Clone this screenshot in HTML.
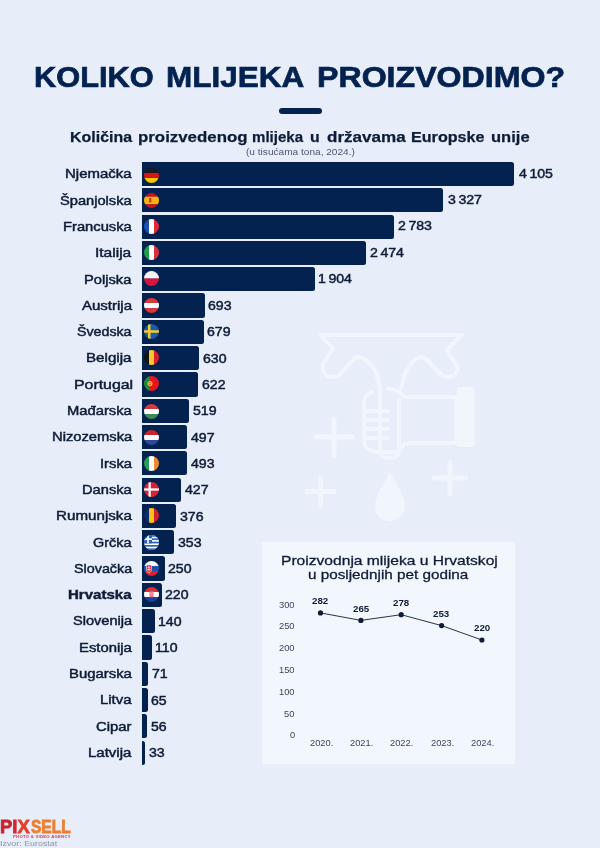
<!DOCTYPE html><html lang="hr"><head><meta charset="utf-8"><title>Koliko mlijeka proizvodimo?</title><style>
*{margin:0;padding:0;box-sizing:border-box}
html,body{width:600px;height:848px;overflow:hidden;background:#e7eefa}
body{font-family:"Liberation Sans",sans-serif;color:#0f1c37;position:relative}
.t{position:absolute;white-space:pre;line-height:1;transform-origin:0 50%}
.rule{position:absolute;left:278.5px;top:108.1px;width:43.5px;height:5.6px;border-radius:3px;background:#03224f}
.bar{position:absolute;left:142px;height:24.2px;background:#03224f;border-radius:0 2.5px 2.5px 0}
.flag{position:absolute;left:144.4px;width:15px;height:15px;border-radius:50%;overflow:hidden}
.flag svg{display:block;width:15px;height:15px}
.box{position:absolute;left:262px;top:541.5px;width:253px;height:222px;background:#f2f7fd}
.chart{position:absolute;left:262px;top:541.5px}
</style></head><body>
<div class="rule"></div>
<svg style="position:absolute;left:290px;top:310px" width="200" height="215" viewBox="290 310 200 215" fill="none" stroke="#f1f5fc" stroke-width="4" stroke-linecap="round" stroke-linejoin="round">
<path d="M320 335H461.7M320 335L333.3 348.3L323.5 363C321 371 325 377 332 377C338 377 341 374 343 371L353 360C360 352 370 362 376 372L380 388"/>
<path d="M461.7 335L446.7 350L456.5 365C459 372 455 377 449 377C443 377 440 374 438 371L427 360C420 352 411 362 406 372L401 388"/>
<path d="M380 388V452C380 460 399 460 399 452V400"/>
<path d="M372 392C366 394 364 398 364 404V440C364 448 370 452 378 452H392C398 452 402 449 404 444L410 443H456V397H404C400 391 394 389 388 389"/>
<path d="M366 411H388M366 420H388M366 429H388M367 438H388"/>
<rect x="457" y="387" width="17.5" height="60" rx="3" fill="#f1f5fc" stroke="none"/>
<path d="M390 472C384 484 375 496 375 506C375 515 382 521 390 521C398 521 405 515 405 506C405 496 396 484 390 472Z" fill="#f1f5fc" stroke="none"/>
<path d="M316 437H352M334 419V455M434 478H466M450 462V494M307 491.5H334M320.5 478V505" stroke-width="5"/>
</svg>
<div class="bar" style="top:161.95px;width:371.91px"></div>
<div class="flag" style="top:168.00px"><svg viewBox="0 0 30 30"><rect x="0" y="0.00" width="30" height="10.30" fill="#1a1a1a"/><rect x="0" y="10.00" width="30" height="10.30" fill="#d8131b"/><rect x="0" y="20.00" width="30" height="10.30" fill="#f6c800"/></svg></div>
<div class="bar" style="top:188.25px;width:301.43px"></div>
<div class="flag" style="top:193.00px"><svg viewBox="0 0 30 30"><rect x="0" y="0.00" width="30" height="7.80" fill="#c8141e"/><rect x="0" y="7.50" width="30" height="15.30" fill="#f7b512"/><rect x="0" y="22.50" width="30" height="7.80" fill="#c8141e"/><rect x="10" y="11" width="5" height="8" fill="#b5531a"/><rect x="11" y="10" width="3" height="2" fill="#c8141e"/></svg></div>
<div class="bar" style="top:214.55px;width:252.14px"></div>
<div class="flag" style="top:218.70px"><svg viewBox="0 0 30 30"><rect y="0" x="0.00" height="30" width="10.30" fill="#1c4fb5"/><rect y="0" x="10.00" height="30" width="10.30" fill="#ffffff"/><rect y="0" x="20.00" height="30" width="10.30" fill="#e1283a"/></svg></div>
<div class="bar" style="top:240.85px;width:224.14px"></div>
<div class="flag" style="top:244.90px"><svg viewBox="0 0 30 30"><rect y="0" x="0.00" height="30" width="10.30" fill="#1e9a4b"/><rect y="0" x="10.00" height="30" width="10.30" fill="#ffffff"/><rect y="0" x="20.00" height="30" width="10.30" fill="#d5303f"/></svg></div>
<div class="bar" style="top:267.15px;width:172.50px"></div>
<div class="flag" style="top:271.20px"><svg viewBox="0 0 30 30"><rect x="0" y="0.00" width="30" height="15.30" fill="#f4f4f6"/><rect x="0" y="15.00" width="30" height="15.30" fill="#d8143a"/></svg></div>
<div class="bar" style="top:293.45px;width:62.79px"></div>
<div class="flag" style="top:297.50px"><svg viewBox="0 0 30 30"><rect x="0" y="0.00" width="30" height="10.30" fill="#d43a3a"/><rect x="0" y="10.00" width="30" height="10.30" fill="#ffffff"/><rect x="0" y="20.00" width="30" height="10.30" fill="#d43a3a"/></svg></div>
<div class="bar" style="top:319.75px;width:61.52px"></div>
<div class="flag" style="top:323.50px"><svg viewBox="0 0 30 30"><rect width="30" height="30" fill="#1d5aa8"/><rect x="8" y="0" width="5" height="30" fill="#f5cb2d"/><rect x="0" y="12.5" width="30" height="5" fill="#f5cb2d"/></svg></div>
<div class="bar" style="top:346.05px;width:57.08px"></div>
<div class="flag" style="top:349.60px"><svg viewBox="0 0 30 30"><rect y="0" x="0.00" height="30" width="10.30" fill="#141414"/><rect y="0" x="10.00" height="30" width="10.30" fill="#f7c92c"/><rect y="0" x="20.00" height="30" width="10.30" fill="#d8202f"/></svg></div>
<div class="bar" style="top:372.35px;width:56.35px"></div>
<div class="flag" style="top:376.00px"><svg viewBox="0 0 30 30"><rect y="0" x="0.00" height="30" width="12.30" fill="#1f8a3c"/><rect y="0" x="12.00" height="30" width="18.30" fill="#e3171f"/><circle cx="12" cy="15" r="5" fill="#f2c321"/><circle cx="12" cy="15" r="2.6" fill="#e3171f"/><circle cx="12" cy="15" r="1.3" fill="#ffffff"/></svg></div>
<div class="bar" style="top:398.65px;width:47.02px"></div>
<div class="flag" style="top:403.60px"><svg viewBox="0 0 30 30"><rect x="0" y="0.00" width="30" height="10.30" fill="#d23a3f"/><rect x="0" y="10.00" width="30" height="10.30" fill="#ffffff"/><rect x="0" y="20.00" width="30" height="10.30" fill="#3f8a55"/></svg></div>
<div class="bar" style="top:424.95px;width:45.03px"></div>
<div class="flag" style="top:430.00px"><svg viewBox="0 0 30 30"><rect x="0" y="0.00" width="30" height="10.30" fill="#c8252f"/><rect x="0" y="10.00" width="30" height="10.30" fill="#ffffff"/><rect x="0" y="20.00" width="30" height="10.30" fill="#2a4a9a"/></svg></div>
<div class="bar" style="top:451.25px;width:44.67px"></div>
<div class="flag" style="top:455.50px"><svg viewBox="0 0 30 30"><rect y="0" x="0.00" height="30" width="10.30" fill="#2a9a56"/><rect y="0" x="10.00" height="30" width="10.30" fill="#ffffff"/><rect y="0" x="20.00" height="30" width="10.30" fill="#f08a2c"/></svg></div>
<div class="bar" style="top:477.55px;width:38.69px"></div>
<div class="flag" style="top:481.80px"><svg viewBox="0 0 30 30"><rect width="30" height="30" fill="#d3223a"/><rect x="9" y="0" width="4.5" height="30" fill="#fff"/><rect x="0" y="12.75" width="30" height="4.5" fill="#fff"/></svg></div>
<div class="bar" style="top:503.85px;width:34.07px"></div>
<div class="flag" style="top:508.40px"><svg viewBox="0 0 30 30"><rect y="0" x="0.00" height="30" width="10.30" fill="#0b2a6a"/><rect y="0" x="10.00" height="30" width="10.30" fill="#f6c415"/><rect y="0" x="20.00" height="30" width="10.30" fill="#d4202c"/></svg></div>
<div class="bar" style="top:530.15px;width:31.98px"></div>
<div class="flag" style="top:534.80px"><svg viewBox="0 0 30 30"><rect width="30" height="30" fill="#fff"/><rect x="0" y="0.00" width="30" height="3.4" fill="#2a62b8"/><rect x="0" y="6.67" width="30" height="3.4" fill="#2a62b8"/><rect x="0" y="13.34" width="30" height="3.4" fill="#2a62b8"/><rect x="0" y="20.01" width="30" height="3.4" fill="#2a62b8"/><rect x="0" y="26.68" width="30" height="3.4" fill="#2a62b8"/><rect x="0" y="0" width="16" height="16.7" fill="#2a62b8"/><rect x="6.3" y="0" width="3.4" height="16.7" fill="#fff"/><rect x="0" y="6.6" width="16" height="3.4" fill="#fff"/></svg></div>
<div class="bar" style="top:556.45px;width:22.65px"></div>
<div class="flag" style="top:561.00px"><svg viewBox="0 0 30 30"><rect x="0" y="0.00" width="30" height="10.30" fill="#ffffff"/><rect x="0" y="10.00" width="30" height="10.30" fill="#1c55b0"/><rect x="0" y="20.00" width="30" height="10.30" fill="#e0202d"/><path d="M5 8h10v9c0 4-3 6-5 7c-2-1-5-3-5-7z" fill="#e0202d" stroke="#fff" stroke-width="1.2"/><path d="M9.2 10h1.6v2.5h2v1.5h-2v2h2.5v1.5h-2.5v3h-1.6v-3h-2.5v-1.5h2.5v-2h-2v-1.5h2z" fill="#fff"/></svg></div>
<div class="bar" style="top:582.75px;width:19.93px"></div>
<div class="flag" style="top:586.60px"><svg viewBox="0 0 30 30"><rect x="0" y="0.00" width="30" height="10.30" fill="#e8262d"/><rect x="0" y="10.00" width="30" height="10.30" fill="#ffffff"/><rect x="0" y="20.00" width="30" height="10.30" fill="#1c3f99"/><path d="M11 9h8v8c0 3-2 5-4 5s-4-2-4-5z" fill="#e8262d"/><g fill="#fff"><rect x="13" y="9" width="2" height="2.6"/><rect x="17" y="9" width="2" height="2.6"/><rect x="11" y="11.6" width="2" height="2.6"/><rect x="15" y="11.6" width="2" height="2.6"/><rect x="13" y="14.2" width="2" height="2.6"/><rect x="17" y="14.2" width="2" height="2.6"/><rect x="11.3" y="16.8" width="1.7" height="2.6"/><rect x="15" y="16.8" width="2" height="2.6"/></g><path d="M10.5 8.8l1.7-2.2 1.4 1.5 1.4-1.8 1.4 1.8 1.4-1.5 1.7 2.2z" fill="#4a7fd0"/></svg></div>
<div class="bar" style="top:609.05px;width:12.68px"></div>
<div class="bar" style="top:635.35px;width:9.97px"></div>
<div class="bar" style="top:661.65px;width:6.43px"></div>
<div class="bar" style="top:687.95px;width:5.89px"></div>
<div class="bar" style="top:714.25px;width:5.07px"></div>
<div class="bar" style="top:740.55px;width:2.99px"></div>
<div class="box"></div>
<svg class="chart" width="253" height="222" viewBox="262 541.5 253 222"><polyline fill="none" stroke="#0f1c37" stroke-width="0.9" points="320.5,612.4 360.9,619.9 401.2,614.2 441.6,625.1 481.9,639.5"/><circle cx="320.5" cy="612.4" r="2.6" fill="#0f1c37"/><circle cx="360.9" cy="619.9" r="2.6" fill="#0f1c37"/><circle cx="401.2" cy="614.2" r="2.6" fill="#0f1c37"/><circle cx="441.6" cy="625.1" r="2.6" fill="#0f1c37"/><circle cx="481.9" cy="639.5" r="2.6" fill="#0f1c37"/></svg>
<div class="t" style="left:33.69px;top:61.97px;font-size:29.8px;font-weight:700;transform:scaleX(1.0331);color:#03224f;-webkit-text-stroke:0.7px #03224f">KOLIKO</div>
<div class="t" style="left:165.65px;top:61.97px;font-size:29.8px;font-weight:700;transform:scaleX(1.0563);color:#03224f;-webkit-text-stroke:0.7px #03224f">MLIJEKA</div>
<div class="t" style="left:317.11px;top:61.97px;font-size:29.8px;font-weight:700;transform:scaleX(1.0782);color:#03224f;-webkit-text-stroke:0.7px #03224f">PROIZVODIMO?</div>
<div class="t" style="left:70.46px;top:129.25px;font-size:15.3px;font-weight:700;transform:scaleX(1.0434);-webkit-text-stroke:0.25px #0f1c37">Količina</div>
<div class="t" style="left:137.60px;top:129.25px;font-size:15.3px;font-weight:700;transform:scaleX(1.1015);-webkit-text-stroke:0.25px #0f1c37">proizvedenog</div>
<div class="t" style="left:252.32px;top:129.25px;font-size:15.3px;font-weight:700;transform:scaleX(0.9843);-webkit-text-stroke:0.25px #0f1c37">mlijeka</div>
<div class="t" style="left:310.43px;top:129.25px;font-size:15.3px;font-weight:700;transform:scaleX(1.0323);-webkit-text-stroke:0.25px #0f1c37">u</div>
<div class="t" style="left:326.94px;top:129.25px;font-size:15.3px;font-weight:700;transform:scaleX(1.1160);-webkit-text-stroke:0.25px #0f1c37">državama</div>
<div class="t" style="left:411.45px;top:129.25px;font-size:15.3px;font-weight:700;transform:scaleX(1.0549);-webkit-text-stroke:0.25px #0f1c37">Europske</div>
<div class="t" style="left:490.69px;top:129.25px;font-size:15.3px;font-weight:700;transform:scaleX(1.0812);-webkit-text-stroke:0.25px #0f1c37">unije</div>
<div class="t" style="left:246.16px;top:148.20px;font-size:8.5px;font-weight:400;transform:scaleX(1.1878);color:#4d576e">(u tisućama tona, 2024.)</div>
<div class="t" style="left:65.08px;top:168.32px;font-size:12.2px;font-weight:400;transform:scaleX(1.2279);-webkit-text-stroke:0.45px #0f1c37">Njemačka</div>
<div class="t" style="left:518.51px;top:167.82px;font-size:12.2px;font-weight:400;transform:scaleX(1.1600);-webkit-text-stroke:0.45px #0f1c37;word-spacing:-1.2px">4 105</div>
<div class="t" style="left:59.90px;top:194.62px;font-size:12.2px;font-weight:400;transform:scaleX(1.2017);-webkit-text-stroke:0.45px #0f1c37">Španjolska</div>
<div class="t" style="left:447.74px;top:194.12px;font-size:12.2px;font-weight:400;transform:scaleX(1.1600);-webkit-text-stroke:0.45px #0f1c37;word-spacing:-1.2px">3 327</div>
<div class="t" style="left:62.79px;top:220.92px;font-size:12.2px;font-weight:400;transform:scaleX(1.2088);-webkit-text-stroke:0.45px #0f1c37">Francuska</div>
<div class="t" style="left:398.16px;top:220.42px;font-size:12.2px;font-weight:400;transform:scaleX(1.1600);-webkit-text-stroke:0.45px #0f1c37;word-spacing:-1.2px">2 783</div>
<div class="t" style="left:95.43px;top:247.22px;font-size:12.2px;font-weight:400;transform:scaleX(1.2721);-webkit-text-stroke:0.45px #0f1c37">Italija</div>
<div class="t" style="left:370.16px;top:246.72px;font-size:12.2px;font-weight:400;transform:scaleX(1.1600);-webkit-text-stroke:0.45px #0f1c37;word-spacing:-1.2px">2 474</div>
<div class="t" style="left:84.40px;top:273.52px;font-size:12.2px;font-weight:400;transform:scaleX(1.2052);-webkit-text-stroke:0.45px #0f1c37">Poljska</div>
<div class="t" style="left:318.23px;top:273.02px;font-size:12.2px;font-weight:400;transform:scaleX(1.1600);-webkit-text-stroke:0.45px #0f1c37;word-spacing:-1.2px">1 904</div>
<div class="t" style="left:81.51px;top:299.82px;font-size:12.2px;font-weight:400;transform:scaleX(1.2315);-webkit-text-stroke:0.45px #0f1c37">Austrija</div>
<div class="t" style="left:208.21px;top:300.12px;font-size:12.2px;font-weight:400;transform:scaleX(1.1600);-webkit-text-stroke:0.45px #0f1c37;word-spacing:-1.2px">693</div>
<div class="t" style="left:77.21px;top:326.12px;font-size:12.2px;font-weight:400;transform:scaleX(1.1658);-webkit-text-stroke:0.45px #0f1c37">Švedska</div>
<div class="t" style="left:206.94px;top:326.42px;font-size:12.2px;font-weight:400;transform:scaleX(1.1600);-webkit-text-stroke:0.45px #0f1c37;word-spacing:-1.2px">679</div>
<div class="t" style="left:86.27px;top:352.42px;font-size:12.2px;font-weight:400;transform:scaleX(1.2444);-webkit-text-stroke:0.45px #0f1c37">Belgija</div>
<div class="t" style="left:202.50px;top:352.72px;font-size:12.2px;font-weight:400;transform:scaleX(1.1600);-webkit-text-stroke:0.45px #0f1c37;word-spacing:-1.2px">630</div>
<div class="t" style="left:73.72px;top:378.72px;font-size:12.2px;font-weight:400;transform:scaleX(1.3023);-webkit-text-stroke:0.45px #0f1c37">Portugal</div>
<div class="t" style="left:201.77px;top:379.02px;font-size:12.2px;font-weight:400;transform:scaleX(1.1600);-webkit-text-stroke:0.45px #0f1c37;word-spacing:-1.2px">622</div>
<div class="t" style="left:66.89px;top:405.02px;font-size:12.2px;font-weight:400;transform:scaleX(1.2113);-webkit-text-stroke:0.45px #0f1c37">Mađarska</div>
<div class="t" style="left:192.73px;top:405.32px;font-size:12.2px;font-weight:400;transform:scaleX(1.1600);-webkit-text-stroke:0.45px #0f1c37;word-spacing:-1.2px">519</div>
<div class="t" style="left:51.59px;top:431.32px;font-size:12.2px;font-weight:400;transform:scaleX(1.2091);-webkit-text-stroke:0.45px #0f1c37">Nizozemska</div>
<div class="t" style="left:191.03px;top:431.62px;font-size:12.2px;font-weight:400;transform:scaleX(1.1600);-webkit-text-stroke:0.45px #0f1c37;word-spacing:-1.2px">497</div>
<div class="t" style="left:99.59px;top:457.62px;font-size:12.2px;font-weight:400;transform:scaleX(1.2117);-webkit-text-stroke:0.45px #0f1c37">Irska</div>
<div class="t" style="left:190.67px;top:457.92px;font-size:12.2px;font-weight:400;transform:scaleX(1.1600);-webkit-text-stroke:0.45px #0f1c37;word-spacing:-1.2px">493</div>
<div class="t" style="left:82.10px;top:483.92px;font-size:12.2px;font-weight:400;transform:scaleX(1.2025);-webkit-text-stroke:0.45px #0f1c37">Danska</div>
<div class="t" style="left:184.69px;top:484.22px;font-size:12.2px;font-weight:400;transform:scaleX(1.1600);-webkit-text-stroke:0.45px #0f1c37;word-spacing:-1.2px">427</div>
<div class="t" style="left:55.77px;top:510.22px;font-size:12.2px;font-weight:400;transform:scaleX(1.2446);-webkit-text-stroke:0.45px #0f1c37">Rumunjska</div>
<div class="t" style="left:179.78px;top:510.52px;font-size:12.2px;font-weight:400;transform:scaleX(1.1600);-webkit-text-stroke:0.45px #0f1c37;word-spacing:-1.2px">376</div>
<div class="t" style="left:93.21px;top:536.52px;font-size:12.2px;font-weight:400;transform:scaleX(1.1845);-webkit-text-stroke:0.45px #0f1c37">Grčka</div>
<div class="t" style="left:177.69px;top:536.82px;font-size:12.2px;font-weight:400;transform:scaleX(1.1600);-webkit-text-stroke:0.45px #0f1c37;word-spacing:-1.2px">353</div>
<div class="t" style="left:73.51px;top:562.82px;font-size:12.2px;font-weight:400;transform:scaleX(1.1758);-webkit-text-stroke:0.45px #0f1c37">Slovačka</div>
<div class="t" style="left:168.07px;top:563.12px;font-size:12.2px;font-weight:400;transform:scaleX(1.1600);-webkit-text-stroke:0.45px #0f1c37;word-spacing:-1.2px">250</div>
<div class="t" style="left:68.08px;top:589.12px;font-size:12.2px;font-weight:700;transform:scaleX(1.2351);-webkit-text-stroke:0.4px #0f1c37">Hrvatska</div>
<div class="t" style="left:165.35px;top:589.42px;font-size:12.2px;font-weight:400;transform:scaleX(1.1600);-webkit-text-stroke:0.45px #0f1c37;word-spacing:-1.2px">220</div>
<div class="t" style="left:72.50px;top:615.42px;font-size:12.2px;font-weight:400;transform:scaleX(1.1960);-webkit-text-stroke:0.45px #0f1c37">Slovenija</div>
<div class="t" style="left:157.81px;top:615.72px;font-size:12.2px;font-weight:400;transform:scaleX(1.1600);-webkit-text-stroke:0.45px #0f1c37;word-spacing:-1.2px">140</div>
<div class="t" style="left:79.09px;top:641.72px;font-size:12.2px;font-weight:400;transform:scaleX(1.2164);-webkit-text-stroke:0.45px #0f1c37">Estonija</div>
<div class="t" style="left:155.10px;top:642.02px;font-size:12.2px;font-weight:400;transform:scaleX(1.1600);-webkit-text-stroke:0.45px #0f1c37;word-spacing:-1.2px">110</div>
<div class="t" style="left:68.78px;top:668.02px;font-size:12.2px;font-weight:400;transform:scaleX(1.2216);-webkit-text-stroke:0.45px #0f1c37">Bugarska</div>
<div class="t" style="left:151.85px;top:668.32px;font-size:12.2px;font-weight:400;transform:scaleX(1.1600);-webkit-text-stroke:0.45px #0f1c37;word-spacing:-1.2px">71</div>
<div class="t" style="left:100.29px;top:694.32px;font-size:12.2px;font-weight:400;transform:scaleX(1.2198);-webkit-text-stroke:0.45px #0f1c37">Litva</div>
<div class="t" style="left:151.31px;top:694.62px;font-size:12.2px;font-weight:400;transform:scaleX(1.1600);-webkit-text-stroke:0.45px #0f1c37;word-spacing:-1.2px">65</div>
<div class="t" style="left:96.39px;top:720.62px;font-size:12.2px;font-weight:400;transform:scaleX(1.2174);-webkit-text-stroke:0.45px #0f1c37">Cipar</div>
<div class="t" style="left:150.78px;top:720.92px;font-size:12.2px;font-weight:400;transform:scaleX(1.1600);-webkit-text-stroke:0.45px #0f1c37;word-spacing:-1.2px">56</div>
<div class="t" style="left:88.28px;top:746.92px;font-size:12.2px;font-weight:400;transform:scaleX(1.2317);-webkit-text-stroke:0.45px #0f1c37">Latvija</div>
<div class="t" style="left:148.70px;top:747.22px;font-size:12.2px;font-weight:400;transform:scaleX(1.1600);-webkit-text-stroke:0.45px #0f1c37;word-spacing:-1.2px">33</div>
<div class="t" style="left:280.54px;top:553.57px;font-size:13.5px;font-weight:400;transform:scaleX(1.1559);-webkit-text-stroke:0.3px #0f1c37">Proizvodnja mlijeka u Hrvatskoj</div>
<div class="t" style="left:308.35px;top:568.27px;font-size:13.5px;font-weight:400;transform:scaleX(1.1300);-webkit-text-stroke:0.3px #0f1c37">u posljednjih pet godina</div>
<div class="t" style="left:289.54px;top:731.37px;font-size:8.3px;font-weight:400;transform:scaleX(1.1200);color:#3a455d">0</div>
<div class="t" style="left:284.22px;top:709.57px;font-size:8.3px;font-weight:400;transform:scaleX(1.1200);color:#3a455d">50</div>
<div class="t" style="left:279.18px;top:687.77px;font-size:8.3px;font-weight:400;transform:scaleX(1.1200);color:#3a455d">100</div>
<div class="t" style="left:279.18px;top:665.97px;font-size:8.3px;font-weight:400;transform:scaleX(1.1200);color:#3a455d">150</div>
<div class="t" style="left:279.18px;top:644.17px;font-size:8.3px;font-weight:400;transform:scaleX(1.1200);color:#3a455d">200</div>
<div class="t" style="left:279.18px;top:622.37px;font-size:8.3px;font-weight:400;transform:scaleX(1.1200);color:#3a455d">250</div>
<div class="t" style="left:279.18px;top:600.57px;font-size:8.3px;font-weight:400;transform:scaleX(1.1200);color:#3a455d">300</div>
<div class="t" style="left:312.38px;top:597.18px;font-size:8.7px;font-weight:700;transform:scaleX(1.1200);">282</div>
<div class="t" style="left:309.72px;top:738.97px;font-size:8.3px;font-weight:400;transform:scaleX(1.1200);color:#3a455d">2020.</div>
<div class="t" style="left:352.73px;top:604.60px;font-size:8.7px;font-weight:700;transform:scaleX(1.1200);">265</div>
<div class="t" style="left:350.07px;top:738.97px;font-size:8.3px;font-weight:400;transform:scaleX(1.1200);color:#3a455d">2021.</div>
<div class="t" style="left:393.08px;top:598.93px;font-size:8.7px;font-weight:700;transform:scaleX(1.1200);">278</div>
<div class="t" style="left:390.42px;top:738.97px;font-size:8.3px;font-weight:400;transform:scaleX(1.1200);color:#3a455d">2022.</div>
<div class="t" style="left:433.43px;top:609.83px;font-size:8.7px;font-weight:700;transform:scaleX(1.1200);">253</div>
<div class="t" style="left:430.77px;top:738.97px;font-size:8.3px;font-weight:400;transform:scaleX(1.1200);color:#3a455d">2023.</div>
<div class="t" style="left:473.78px;top:624.22px;font-size:8.7px;font-weight:700;transform:scaleX(1.1200);">220</div>
<div class="t" style="left:471.12px;top:738.97px;font-size:8.3px;font-weight:400;transform:scaleX(1.1200);color:#3a455d">2024.</div>
<div class="t" style="left:0.21px;top:818.70px;font-size:17.6px;font-weight:700;transform:scaleX(1.0500);-webkit-text-stroke-width:0.8px"><span style="color:#c9222f">P</span><span style="color:#d42a2d">I</span><span style="color:#e2412b">X</span></div>
<div class="t" style="left:30.90px;top:818.70px;font-size:17.6px;font-weight:700;transform:scaleX(0.8827);color:#ee7f2f;-webkit-text-stroke:0.8px #ee7f2f">SELL</div>
<div class="t" style="left:13.05px;top:834.53px;font-size:4.1px;font-weight:700;transform:scaleX(1.0151);color:#c0384f;letter-spacing:0.3px">PHOTO &amp; VIDEO AGENCY</div>
<div class="t" style="left:-0.09px;top:839.65px;font-size:7.5px;font-weight:400;transform:scaleX(1.1832);color:#8b94a5">Izvor: Eurostat</div>
</body></html>
